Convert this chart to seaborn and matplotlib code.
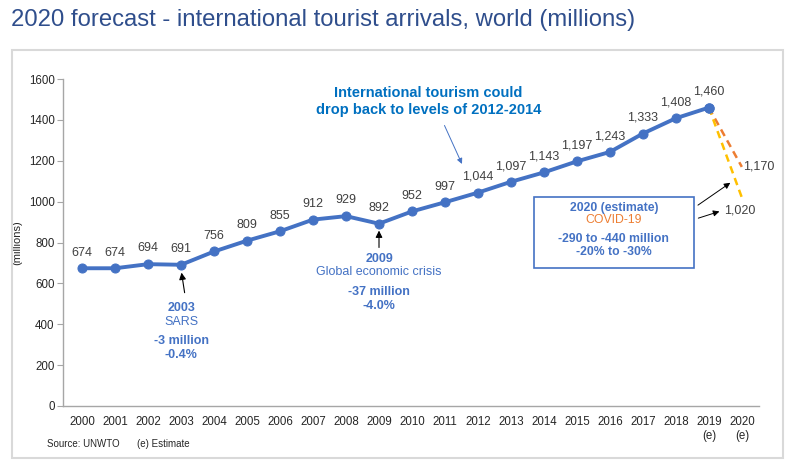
import matplotlib
matplotlib.use("Agg")
import matplotlib.pyplot as plt
import seaborn as sns
import pandas as pd
from matplotlib.patches import Rectangle

years = list(range(2000, 2020))
arrivals = [674, 674, 694, 691, 756, 809, 855, 912, 929, 892, 952, 997,
            1044, 1097, 1143, 1197, 1243, 1333, 1408, 1460]
forecast_year = 2020
forecast_high = 1170
forecast_low = 1020
tick_years = list(range(2000, 2021))
tick_labels = [str(y) for y in range(2000, 2019)] + ["2019\n(e)", "2020\n(e)"]
yticks = [0, 200, 400, 600, 800, 1000, 1200, 1400, 1600]

sns.set_theme(style="white")
plt.rcParams['font.family'] = ['Liberation Sans', 'DejaVu Sans']

BLUE = "#4472C4"
GRAY = "#404040"

fig = plt.figure(figsize=(8, 4.71), dpi=100)
ax = fig.add_axes([63/800, 1-406/471, (759-63)/800, (406-79)/471])

# outer frame
fig.patches.append(Rectangle((12/800, 1-458/471), 771/800, 408/471, transform=fig.transFigure,
                             fill=False, edgecolor="#D9D9D9", linewidth=1.5))

df = pd.DataFrame({"year": years, "arrivals": arrivals})
sns.lineplot(data=df, x="year", y="arrivals", ax=ax, color=BLUE, linewidth=2.8,
             marker="o", markersize=6.5, markeredgecolor=BLUE, zorder=3)

# forecast dashed lines
ax.plot([years[-1], forecast_year], [arrivals[-1], forecast_high], ls=(0, (3, 2)),
        color="#ED7D31", lw=1.8, zorder=2)
ax.plot([years[-1], forecast_year], [arrivals[-1], forecast_low], ls=(0, (3, 2)),
        color="#FFC000", lw=1.8, zorder=2)
ax.plot([years[-1]], [arrivals[-1]], 'o', color=BLUE, ms=6.5, zorder=4)

for x, v in zip(years, arrivals):
    ax.annotate(f"{v:,}", (x, v), xytext=(0, 7), textcoords="offset points",
                ha="center", va="bottom", fontsize=9, color=GRAY)
ax.annotate(f"{forecast_high:,}", (forecast_year, forecast_high), xytext=(1, 0),
            textcoords="offset points", ha="left", va="center", fontsize=9, color=GRAY)
ax.annotate(f"{forecast_low:,}", (forecast_year, forecast_low), xytext=(-13, -9),
            textcoords="offset points", ha="left", va="center", fontsize=9, color=GRAY)

ax.set_xlim(2000 - 0.58, 2020 + 0.52)
ax.set_ylim(0, 1600)
ax.set_xticks(tick_years)
ax.set_xticklabels(tick_labels, fontsize=8.3, color="#262626", va="top", linespacing=1.2)
ax.set_yticks(yticks)
ax.set_yticklabels([str(t) for t in yticks], fontsize=8.3, color="#262626")
ax.tick_params(axis="y", left=True, length=4, width=0.8, color="#A6A6A6", direction="out", pad=2)
ax.tick_params(axis="x", bottom=False, pad=1.5)
ax.set_xlabel("")
ax.set_ylabel("(millions)", fontsize=8, color="#262626", labelpad=5)
for s in ["top", "right"]:
    ax.spines[s].set_visible(False)
for s in ["left", "bottom"]:
    ax.spines[s].set_color("#A6A6A6")
    ax.spines[s].set_linewidth(1)
ax.grid(False)

# 2003 annotation
ax.annotate("", xy=(2003, 691 - 25), xytext=(2003.12, 691 - 150),
            arrowprops=dict(arrowstyle="-|>", color="black", lw=0.8, mutation_scale=10))
ax.text(2003, 480, "2003", ha="center", va="center", fontsize=9, color=BLUE, fontweight="bold")
ax.text(2003, 412, "SARS", ha="center", va="center", fontsize=9, color=BLUE)
ax.text(2003, 318, "-3 million", ha="center", va="center", fontsize=9, color=BLUE, fontweight="bold")
ax.text(2003, 250, "-0.4%", ha="center", va="center", fontsize=9, color=BLUE, fontweight="bold")

# 2009 annotation
ax.annotate("", xy=(2009, 892 - 20), xytext=(2009, 892 - 130),
            arrowprops=dict(arrowstyle="-|>", color="black", lw=0.8, mutation_scale=10))
ax.text(2009, 717, "2009", ha="center", va="center", fontsize=9, color=BLUE, fontweight="bold")
ax.text(2009, 654, "Global economic crisis", ha="center", va="center", fontsize=9, color=BLUE)
ax.text(2009, 556, "-37 million", ha="center", va="center", fontsize=9, color=BLUE, fontweight="bold")
ax.text(2009, 488, "-4.0%", ha="center", va="center", fontsize=9, color=BLUE, fontweight="bold")

# International tourism note
ax.text(2010.5, 1530, "International tourism could", ha="center", va="center",
        fontsize=10.5, color="#0070C0", fontweight="bold")
ax.text(2010.5, 1450, "drop back to levels of 2012-2014", ha="center", va="center",
        fontsize=10.5, color="#0070C0", fontweight="bold")
ax.annotate("", xy=(2011.55, 1172), xytext=(2010.95, 1385),
            arrowprops=dict(arrowstyle="-|>", color=BLUE, lw=0.7, mutation_scale=8))

# 2020 box
ax.add_patch(Rectangle((2013.7, 673), 4.85, 351, fill=True, facecolor="white",
                       edgecolor=BLUE, linewidth=1.2, zorder=5))
ax.text(2016.12, 970, "2020 (estimate)", ha="center", va="center", fontsize=8.8,
        color=BLUE, fontweight="bold", zorder=6)
ax.text(2016.12, 912, "COVID-19", ha="center", va="center", fontsize=8.8,
        color="#ED7D31", zorder=6)
ax.text(2016.12, 815, "-290 to -440 million", ha="center", va="center", fontsize=8.8,
        color=BLUE, fontweight="bold", zorder=6)
ax.text(2016.12, 752, "-20% to -30%", ha="center", va="center", fontsize=8.8,
        color=BLUE, fontweight="bold", zorder=6)
ax.annotate("", xy=(2019.72, 1100), xytext=(2018.6, 975),
            arrowprops=dict(arrowstyle="-|>", color="black", lw=0.7, mutation_scale=9), zorder=6)
ax.annotate("", xy=(2019.4, 956), xytext=(2018.6, 915),
            arrowprops=dict(arrowstyle="-|>", color="black", lw=0.7, mutation_scale=9), zorder=6)

# title and source
fig.text(11/800, 1-20/471, "2020 forecast - international tourist arrivals, world (millions)",
         ha="left", va="center", fontsize=17.2, color="#2F4E8C")
fig.text(47/800, 1-444/471, "Source: UNWTO", ha="left", va="center",
         fontsize=7, color="#262626")
fig.text(137/800, 1-444/471, "(e) Estimate", ha="left", va="center",
         fontsize=7, color="#262626")

fig.savefig("out.png", dpi=100)
